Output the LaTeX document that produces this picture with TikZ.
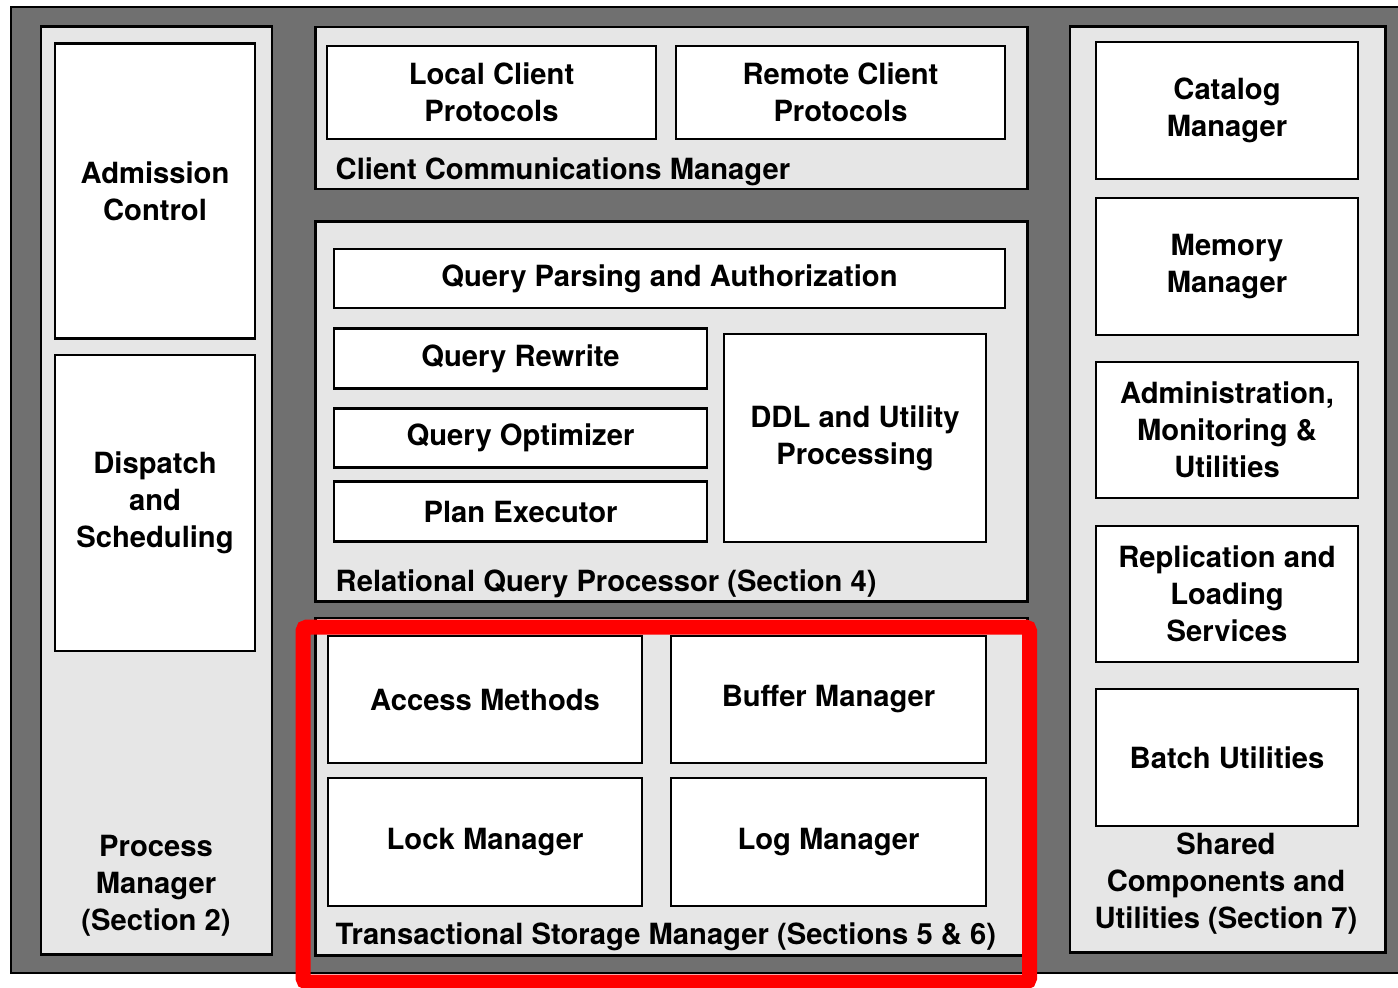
\documentclass[tikz,border=0pt]{standalone}
\usepackage{fontspec}
\setmainfont{TeX Gyre Heros}
\definecolor{Frame}{HTML}{707070}
\definecolor{Panel}{HTML}{E6E6E6}
\definecolor{Highlight}{HTML}{FF0000}
\tikzset{
  panel/.style={draw=black, fill=Panel, line width=0.8pt, inner sep=0pt, outer sep=0pt},
  box/.style={draw=black, fill=white, line width=0.7pt, inner sep=0pt, outer sep=0pt,
    align=center, font=\fontsize{8.3}{10.5}\selectfont\bfseries},
  caption/.style={inner sep=0pt, align=center, font=\fontsize{8.3}{10.5}\selectfont\bfseries}
}

\begin{document}
\begin{tikzpicture}[x=0.01cm, y=-0.01cm]

  \clip (0,0) rectangle (1398,987);
  \fill[white] (0,0) rectangle (1398,987);

  %%%%%%%%%% Cadre %%%%%%%%%%
  \draw[fill=Frame, line width=0.6pt] (11,7) rectangle (1420,973);

  %%%%%%%%%% Process manager %%%%%%%%%%
  \node[panel, minimum width=2.31cm, minimum height=9.27cm] (process) at (156.5,490.5) {};
  \node[box, minimum width=2.00cm, minimum height=2.95cm] (admission) at (155,191) {Admission\\Control};
  \node[box, minimum width=2.00cm, minimum height=2.96cm] (dispatch) at (155,503) {Dispatch\\and\\Scheduling};
  \node[caption] (processlabel) at (156,886) {Process\\Manager\\(Section 2)};

  %%%%%%%%%% Client communications %%%%%%%%%%
  \node[panel, minimum width=7.11cm, minimum height=1.62cm] (client) at (671.5,108) {};
  \node[box, minimum width=3.29cm, minimum height=0.93cm] (local) at (491.5,92.5) {Local Client\\Protocols};
  \node[box, minimum width=3.29cm, minimum height=0.93cm] (remote) at (840.5,92.5) {Remote Client\\Protocols};
  \node[caption, anchor=west] (clientlabel) at (335,172) {Client Communications Manager};

  %%%%%%%%%% Relational query processor %%%%%%%%%%
  \node[panel, minimum width=7.11cm, minimum height=3.79cm] (rqp) at (671.5,411.5) {};
  \node[box, minimum width=6.71cm, minimum height=0.59cm] (parsing) at (669.5,278.5) {Query Parsing and Authorization};
  \node[box, minimum width=3.73cm, minimum height=0.60cm] (rewrite) at (520.5,358.5) {Query Rewrite};
  \node[box, minimum width=3.73cm, minimum height=0.59cm] (optimizer) at (520.5,438) {Query Optimizer};
  \node[box, minimum width=3.73cm, minimum height=0.60cm] (executor) at (520.5,511.5) {Plan Executor};
  \node[box, minimum width=2.62cm, minimum height=2.08cm] (ddl) at (855,438) {DDL and Utility\\Processing};
  \node[caption, anchor=west] (rqplabel) at (335,584) {Relational Query Processor (Section 4)};

  %%%%%%%%%% Transactional storage manager %%%%%%%%%%
  \node[panel, minimum width=7.11cm, minimum height=3.37cm] (tsm) at (671.5,786.5) {};
  \node[box, minimum width=3.14cm, minimum height=1.27cm] (access) at (485,699.5) {Access Methods};
  \node[box, minimum width=3.15cm, minimum height=1.27cm] (buffer) at (828.5,699.5) {Buffer Manager};
  \node[box, minimum width=3.14cm, minimum height=1.28cm] (lock) at (485,842) {Lock Manager};
  \node[box, minimum width=3.15cm, minimum height=1.28cm] (log) at (828.5,842) {Log Manager};
  \node[caption, anchor=west] (tsmlabel) at (335,937) {Transactional Storage Manager (Sections 5 \& 6)};

  %%%%%%%%%% Shared components %%%%%%%%%%
  \node[panel, minimum width=3.15cm, minimum height=9.25cm] (shared) at (1227.5,489.5) {};
  \node[box, minimum width=2.62cm, minimum height=1.37cm] (catalog) at (1227,110.5) {Catalog\\Manager};
  \node[box, minimum width=2.62cm, minimum height=1.37cm] (memory) at (1227,266.5) {Memory\\Manager};
  \node[box, minimum width=2.62cm, minimum height=1.36cm] (admin) at (1227,430) {Administration,\\Monitoring \&\\Utilities};
  \node[box, minimum width=2.62cm, minimum height=1.36cm] (replication) at (1227,594) {Replication and\\Loading\\Services};
  \node[box, minimum width=2.62cm, minimum height=1.37cm] (batch) at (1227,757.5) {Batch Utilities};
  \node[caption] (sharedlabel) at (1226,884) {Shared\\Components and\\Utilities (Section 7)};

  %%%%%%%%%% Mise en evidence %%%%%%%%%%
  \draw[Highlight, line width=0.15cm, rounded corners=0.04cm] (303,627) rectangle (1029.5,982);

\end{tikzpicture}
\end{document}
